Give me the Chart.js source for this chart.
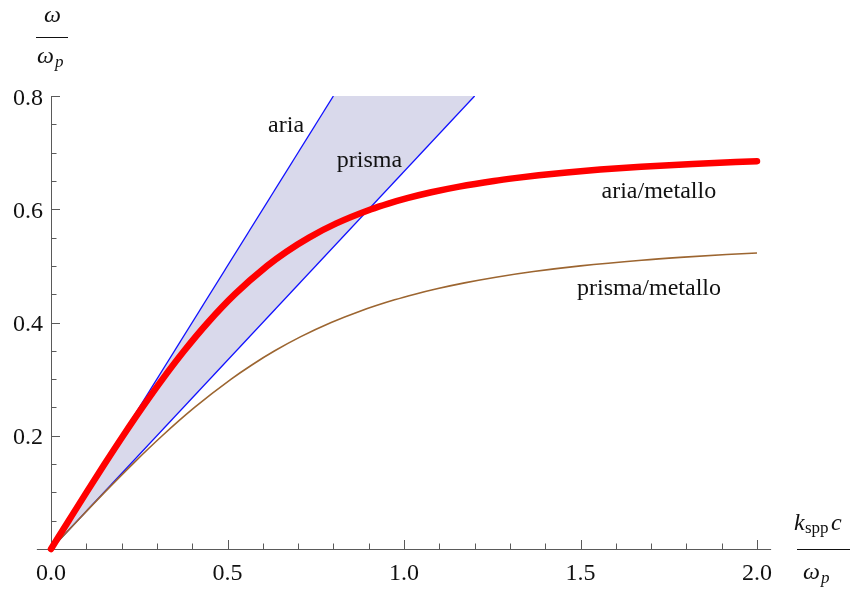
<!DOCTYPE html>
<html>
<head>
<meta charset="utf-8">
<script src="https://cdn.jsdelivr.net/npm/chart.js@4/dist/chart.umd.min.js"></script>
<style>
  html, body { margin: 0; padding: 0; background: #ffffff; }
  #wrap { width: 851px; height: 590px; }
</style>
</head>
<body>
<div id="wrap"><canvas id="c" width="851" height="590"></canvas></div>
<script>
// Light lines: omega = k c (air) and omega = k c / n (prism, n = 1.5)
const ariaLine   = [{x: 0, y: 0}, {x: 0.8, y: 0.8}];
const prismaLine = [{x: 0, y: 0}, {x: 1.2, y: 0.8}];

// Surface plasmon polariton dispersion, air / metal
const ariaMetalloK = [0, 0.0501, 0.1005, 0.1518, 0.2043, 0.2588, 0.316, 0.3773, 0.4446, 0.521, 0.6124,
  0.667, 0.7309, 0.8083, 0.9071, 0.9557, 1.0117, 1.0774, 1.1565, 1.2547, 1.3137, 1.3816, 1.4611,
  1.5559, 1.6718, 1.8181, 2.0];
const ariaMetalloW = [0, 0.05, 0.1, 0.15, 0.2, 0.25, 0.3, 0.35, 0.4, 0.45, 0.5,
  0.525, 0.55, 0.575, 0.6, 0.61, 0.62, 0.63, 0.64, 0.65, 0.655, 0.66, 0.665,
  0.67, 0.675, 0.68, 0.6848];

// Surface plasmon polariton dispersion, prism / metal
const prismaMetalloK = [0, 0.0752, 0.1517, 0.2311, 0.3151, 0.4067, 0.5104, 0.5689, 0.6339, 0.7077, 0.7937,
  0.8753, 0.9733, 1.0309, 1.0963, 1.1717, 1.2603, 1.367, 1.5, 1.6732, 1.7824, 1.9138, 2.0];
const prismaMetalloW = [0, 0.05, 0.1, 0.15, 0.2, 0.25, 0.3, 0.325, 0.35, 0.375, 0.4,
  0.42, 0.44, 0.45, 0.46, 0.47, 0.48, 0.49, 0.5, 0.51, 0.515, 0.52, 0.5228];

// Axis ticks
const xMajorTicks = [0, 0.5, 1.0, 1.5, 2.0];
const xTickLabels = ['0.0', '0.5', '1.0', '1.5', '2.0'];
const xMinorTicks = [0.1, 0.2, 0.3, 0.4, 0.6, 0.7, 0.8, 0.9, 1.1, 1.2, 1.3, 1.4, 1.6, 1.7, 1.8, 1.9];
const yMajorTicks = [0.2, 0.4, 0.6, 0.8];
const yTickLabels = ['0.2', '0.4', '0.6', '0.8'];
const yMinorTicks = [0.05, 0.1, 0.15, 0.25, 0.3, 0.35, 0.45, 0.5, 0.55, 0.65, 0.7, 0.75];

// Curve names
const curveLabels = ['aria', 'prisma', 'aria/metallo', 'prisma/metallo'];
const curveLabelAt = [
  {x: 0.666, y: 0.736},
  {x: 0.902, y: 0.674},
  {x: 1.722, y: 0.619},
  {x: 1.694, y: 0.448}
];

const zip = (xs, ys) => xs.map((x, i) => ({x: x, y: ys[i]}));
const lightCone = ariaLine.concat(prismaLine.slice().reverse());

const SERIF = '"Liberation Serif", "Times New Roman", serif';
const AXIS_COLOR = '#5a5a5a';

const axesPlugin = {
  id: 'mmaAxes',
  beforeDatasetsDraw(chart) {
    const ctx = chart.ctx;
    const xs = chart.scales.x, ys = chart.scales.y;
    const x0 = xs.getPixelForValue(0), y0 = ys.getPixelForValue(0);
    ctx.save();
    ctx.strokeStyle = AXIS_COLOR;
    ctx.lineWidth = 1;
    ctx.beginPath();
    // horizontal axis (with a little padding on both sides)
    ctx.moveTo(xs.getPixelForValue(-0.04), y0 + 0.5);
    ctx.lineTo(xs.getPixelForValue(2.04), y0 + 0.5);
    // vertical axis
    ctx.moveTo(x0 + 0.5, ys.getPixelForValue(0.8));
    ctx.lineTo(x0 + 0.5, y0 + 0.5);
    // x ticks point into the plot
    xMajorTicks.forEach(v => {
      const p = Math.round(xs.getPixelForValue(v)) + 0.5;
      ctx.moveTo(p, y0); ctx.lineTo(p, y0 - 9);
    });
    xMinorTicks.forEach(v => {
      const p = Math.round(xs.getPixelForValue(v)) + 0.5;
      ctx.moveTo(p, y0); ctx.lineTo(p, y0 - 5.5);
    });
    yMajorTicks.forEach(v => {
      const p = Math.round(ys.getPixelForValue(v)) + 0.5;
      ctx.moveTo(x0, p); ctx.lineTo(x0 + 9, p);
    });
    yMinorTicks.forEach(v => {
      const p = Math.round(ys.getPixelForValue(v)) + 0.5;
      ctx.moveTo(x0, p); ctx.lineTo(x0 + 5.5, p);
    });
    ctx.stroke();
    ctx.restore();
  },
  afterDraw(chart) {
    const ctx = chart.ctx;
    const xs = chart.scales.x, ys = chart.scales.y;
    const x0 = xs.getPixelForValue(0), y0 = ys.getPixelForValue(0);
    ctx.save();
    ctx.fillStyle = '#111111';
    ctx.textBaseline = 'alphabetic';

    // tick labels
    ctx.font = '24px ' + SERIF;
    ctx.textAlign = 'center';
    xMajorTicks.forEach((v, i) => {
      ctx.fillText(xTickLabels[i], xs.getPixelForValue(v), y0 + 31);
    });
    ctx.textAlign = 'right';
    yMajorTicks.forEach((v, i) => {
      ctx.fillText(yTickLabels[i], x0 - 8, ys.getPixelForValue(v) + 8.5);
    });

    // curve names
    ctx.textAlign = 'center';
    curveLabels.forEach((t, i) => {
      ctx.fillText(t, xs.getPixelForValue(curveLabelAt[i].x), ys.getPixelForValue(curveLabelAt[i].y));
    });

    // vertical axis title: omega / omega_p
    ctx.textAlign = 'left';
    ctx.font = 'italic 24px ' + SERIF;
    ctx.fillText('ω', 44, 22);
    ctx.fillText('ω', 37, 63);
    ctx.font = 'italic 17px ' + SERIF;
    ctx.fillText('p', 55, 67);
    ctx.strokeStyle = '#111111';
    ctx.lineWidth = 1;
    ctx.beginPath();
    ctx.moveTo(36, 37.5); ctx.lineTo(68, 37.5);
    ctx.stroke();

    // horizontal axis title: k_spp c / omega_p
    ctx.font = 'italic 24px ' + SERIF;
    ctx.fillText('k', 794, 530);
    ctx.font = '17px ' + SERIF;
    ctx.fillText('spp', 805, 533);
    ctx.font = 'italic 24px ' + SERIF;
    ctx.fillText('c', 831, 530);
    ctx.fillText('ω', 803, 579);
    ctx.font = 'italic 17px ' + SERIF;
    ctx.fillText('p', 821, 583);
    ctx.beginPath();
    ctx.moveTo(797, 549.5); ctx.lineTo(850, 549.5);
    ctx.stroke();
    ctx.restore();
  }
};

new Chart(document.getElementById('c'), {
  type: 'line',
  data: {
    datasets: [
      {
        data: zip(ariaMetalloK, ariaMetalloW),
        borderColor: '#ff0000', borderWidth: 6.5,
        borderCapStyle: 'round', borderJoinStyle: 'round',
        cubicInterpolationMode: 'monotone',
        pointRadius: 0, fill: false, clip: false, order: 1
      },
      {
        data: zip(prismaMetalloK, prismaMetalloW),
        borderColor: '#9c6530', borderWidth: 1.6,
        cubicInterpolationMode: 'monotone',
        pointRadius: 0, fill: false, order: 2
      },
      {
        data: ariaLine,
        borderColor: '#1010ff', borderWidth: 1.3,
        tension: 0, pointRadius: 0, fill: false, order: 3
      },
      {
        data: prismaLine,
        borderColor: '#1010ff', borderWidth: 1.3,
        tension: 0, pointRadius: 0, fill: false, order: 4
      },
      {
        data: lightCone,
        borderWidth: 0, borderColor: 'rgba(0,0,0,0)',
        backgroundColor: '#d9d9eb',
        tension: 0, pointRadius: 0, fill: 'shape', order: 5
      }
    ]
  },
  options: {
    responsive: false,
    animation: false,
    devicePixelRatio: 1,
    layout: { padding: { left: 51, right: 94, top: 96, bottom: 41 } },
    scales: {
      x: { type: 'linear', min: 0, max: 2, display: false },
      y: { type: 'linear', min: 0, max: 0.8, display: false }
    },
    plugins: {
      legend: { display: false },
      tooltip: { enabled: false }
    },
    events: []
  },
  plugins: [axesPlugin]
});
</script>
</body>
</html>
